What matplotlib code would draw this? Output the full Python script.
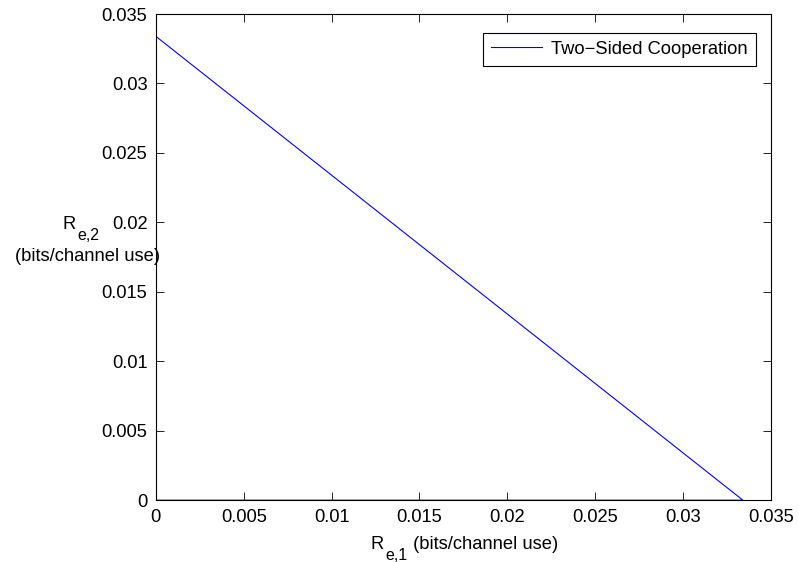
import matplotlib
matplotlib.use("Agg")
import matplotlib.pyplot as plt
from matplotlib.transforms import offset_copy

# region boundary (rate pair corners)
rate_x = [0.0, 0.0, 0.0334, 0.0]
rate_y = [0.0, 0.0334, 0.0, 0.0]
legend_label = "Two\u2212Sided Cooperation"
ticks = [0, 0.005, 0.01, 0.015, 0.02, 0.025, 0.03, 0.035]
tick_labels = ["0", "0.005", "0.01", "0.015", "0.02", "0.025", "0.03", "0.035"]

plt.rcParams["font.family"] = ["Liberation Sans", "DejaVu Sans"]
plt.rcParams["font.size"] = 13.2

fig = plt.figure(figsize=(7.99, 5.62), dpi=100)
ax = fig.add_axes([0.195, 0.110, 0.770, 0.865])

ax.plot(rate_x, rate_y, color="blue", lw=0.8, label=legend_label)

ax.set_xlim(0, 0.035)
ax.set_ylim(0, 0.035)
ax.set_xticks(ticks)
ax.set_xticklabels(tick_labels)
ax.set_yticks(ticks)
ax.set_yticklabels(tick_labels)
ax.tick_params(direction="in", top=True, right=True, length=6, width=0.6, pad=6)
for s in ax.spines.values():
    s.set_linewidth(0.8)


def sub_label(x, y, main, sub, rest=""):
    # MATLAB-like subscript: main letter, lowered smaller text, then the rest
    fig.canvas.draw()
    r = fig.canvas.get_renderer()
    t1 = fig.text(x, y, main, ha="left", va="baseline")
    w1 = t1.get_window_extent(r).width
    t2 = fig.text(x, y, sub, ha="left", va="baseline", fontsize=11.5,
                  transform=offset_copy(fig.transFigure, fig, x=w1 * 72 / fig.dpi + 1,
                                        y=-8, units="points"))
    w2 = t2.get_window_extent(r).width
    t3 = None
    if rest:
        t3 = fig.text(x, y, rest, ha="left", va="baseline",
                      transform=offset_copy(fig.transFigure, fig,
                                            x=(w1 + w2) * 72 / fig.dpi + 1, y=0, units="points"))
    total = w1 + w2 + (t3.get_window_extent(r).width if t3 else 0) + 1
    # shift everything so the whole label is centred on x
    dx = -total / 2 / fig.bbox.width
    for t in (t1, t2, t3):
        if t is not None:
            t.set_x(x + dx)


sub_label(0.581, 0.024, "R", "e,1", " (bits/channel use)")
sub_label(0.101, 0.592, "R", "e,2")
fig.text(0.110, 0.536, "(bits/channel use)", ha="center", va="baseline")

leg = ax.legend(loc="upper right", bbox_to_anchor=(0.976, 0.962), fancybox=False,
                edgecolor="black", framealpha=1, borderpad=0.45, handlelength=2.8,
                handletextpad=0.5, borderaxespad=0)
leg.get_frame().set_linewidth(0.8)

fig.savefig("out.png", dpi=100)
